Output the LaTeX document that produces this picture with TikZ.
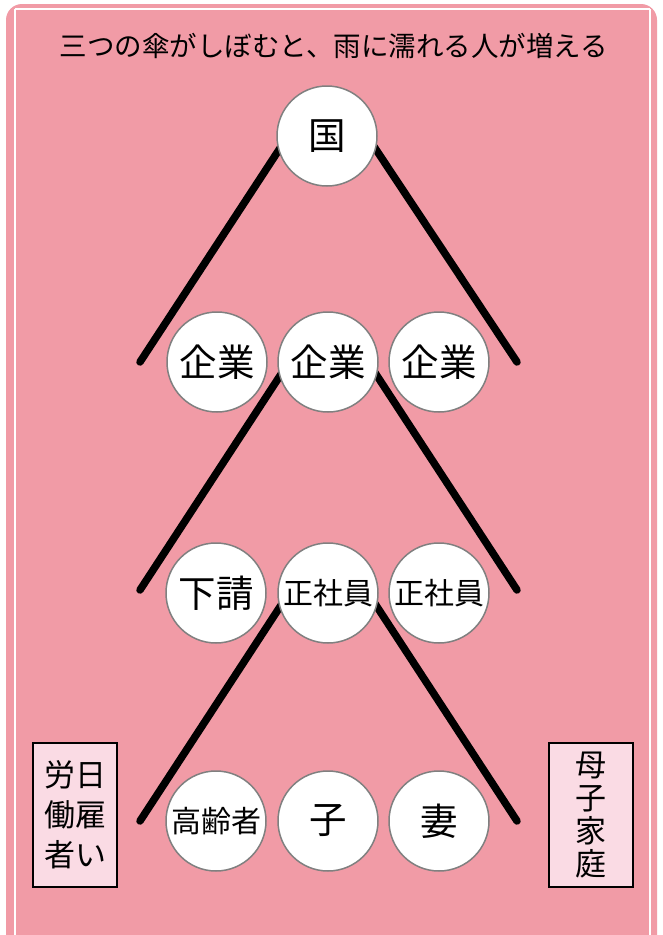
\documentclass[tikz,border=0pt]{standalone}
\usepackage{fontspec}
\setmainfont{Noto Sans CJK JP}
\definecolor{bgpink}{HTML}{F19BA6}
\definecolor{boxpink}{HTML}{FADBE4}
\definecolor{ringgray}{HTML}{808080}
\begin{document}
\begin{tikzpicture}[x=1pt,y=-1pt,
  circ/.style={circle,draw=ringgray,line width=1.5pt,fill=white,minimum size=100pt,inner sep=0pt},
  big/.style={font=\fontsize{37.5}{40}\selectfont},
  small/.style={font=\fontsize{30}{33}\selectfont},
  umb/.style={line width=7.5pt,line cap=round,black},
  vbox/.style={draw=black,line width=1.2pt,fill=boxpink,inner sep=0pt,align=center}]
\useasboundingbox (0,0) rectangle (662,935);
\fill[white] (0,0) rectangle (662,935);
\fill[bgpink,rounded corners=16pt] (6,4) rectangle (657,960);
\draw[white,line width=2pt] (15,9) -- (15,950);
\draw[white,line width=2pt] (15,9) -- (650,9);
\draw[white,line width=2pt] (650,9) -- (650,950);
\node[font=\fontsize{27.5}{30}\selectfont] (title) at (334,46) {三つの傘がしぼむと、雨に濡れる人が増える};
% endpoints
\coordinate (l1) at (140,362);
\coordinate (r1) at (517,362);
\coordinate (l2) at (140,590);
\coordinate (r2) at (517,590);
\coordinate (l3) at (140,821);
\coordinate (r3) at (517,821);
\coordinate (p1) at (327,136);
\coordinate (p2) at (328,362);
\coordinate (p3) at (328,593);
\coordinate (u1l) at (288,136);
\coordinate (u1r) at (367,136);
\coordinate (u2l) at (289,362);
\coordinate (u2r) at (368,362);
\coordinate (u3l) at (289,593);
\coordinate (u3r) at (368,593);
\draw[umb] (u1l) -- (l1);
\draw[umb] (u1r) -- (r1);
\draw[umb] (u2l) -- (l2);
\draw[umb] (u2r) -- (r2);
\draw[umb] (u3l) -- (l3);
\draw[umb] (u3r) -- (r3);
\node[circ,big] (koku) at (p1) {国};
\node[circ,big] (kg1) at (217,362) {企業};
\node[circ,big] (kg2) at (p2) {企業};
\node[circ,big] (kg3) at (439,362) {企業};
\node[circ,big] (shita) at (216,593) {下請};
\node[circ,small] (sei1) at (p3) {正社員};
\node[circ,small] (sei2) at (439,593) {正社員};
\node[circ,small] (kourei) at (216,821) {高齢者};
\node[circ,big] (ko) at (328,821) {子};
\node[circ,big] (tsuma) at (439,821) {妻};
\node[vbox,minimum width=84pt,minimum height=144pt,font=\fontsize{31}{40}\selectfont] (hiyatoi) at (75,815) {労日\\働雇\\者い};
\node[vbox,minimum width=84pt,minimum height=144pt,font=\fontsize{31}{33}\selectfont] (boshi) at (591,815) {母\\子\\家\\庭};
\end{tikzpicture}
\end{document}
